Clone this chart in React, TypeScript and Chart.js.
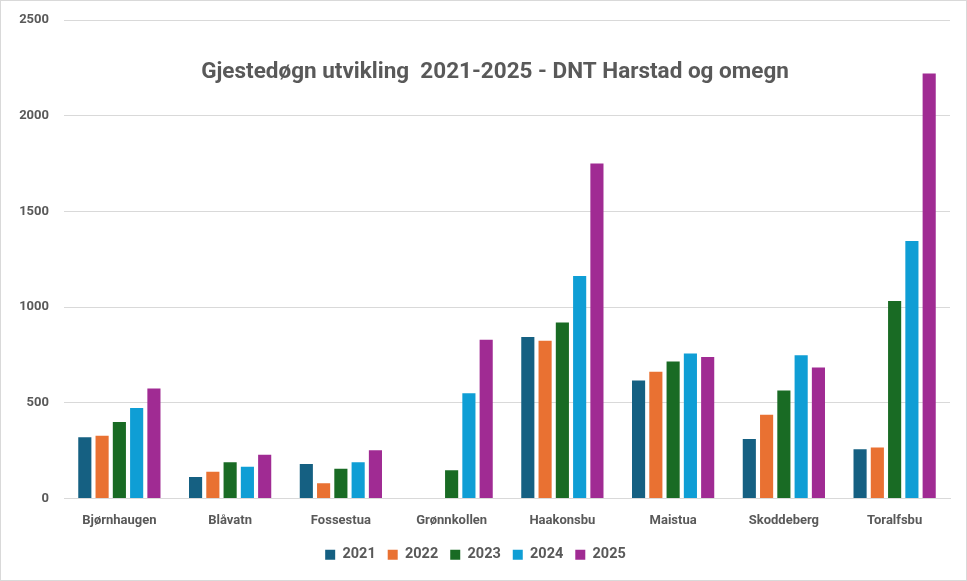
import React, { useEffect, useRef } from "react";
import { Chart, registerables } from "chart.js";

Chart.register(...registerables);

const categories = ["Bjørnhaugen", "Blåvatn", "Fossestua", "Grønnkollen", "Haakonsbu", "Maistua", "Skoddeberg", "Toralfsbu"];
const seriesNames = ["2021", "2022", "2023", "2024", "2025"];
const values2021 = [320, 112, 180, null, 844, 617, 311, 257];
const values2022 = [328, 140, 80, null, 824, 662, 437, 267];
const values2023 = [400, 189, 156, 147, 920, 716, 564, 1032];
const values2024 = [473, 166, 190, 550, 1163, 758, 749, 1345];
const values2025 = [575, 229, 252, 830, 1750, 739, 685, 2220];
const seriesColors = ["#156082", "#E97132", "#196B24", "#0F9ED5", "#A02B93"];
const yTicks = [0, 500, 1000, 1500, 2000, 2500];
const titleText = "Gjestedøgn utvikling  2021-2025 - DNT Harstad og omegn";

export default function App() {
  const canvasRef = useRef<HTMLCanvasElement | null>(null);

  useEffect(() => {
    document.body.style.margin = "0";
    const canvas = canvasRef.current;
    if (!canvas) return;
    const allValues = [values2021, values2022, values2023, values2024, values2025];

    const titlePlugin = {
      id: "overlayTitle",
      afterDraw(chart: any) {
        const ctx = chart.ctx;
        ctx.save();
        ctx.font = "bold 22.5px Roboto";
        ctx.fillStyle = "#595959";
        ctx.textAlign = "center";
        ctx.textBaseline = "alphabetic";
        ctx.fillText(titleText, 494, 77);
        ctx.restore();
      },
    };

    const chart = new Chart(canvas, {
      type: "bar",
      data: {
        labels: categories,
        datasets: seriesNames.map((name, i) => ({
          label: name,
          data: allValues[i],
          backgroundColor: seriesColors[i],
          borderWidth: 0,
          categoryPercentage: 0.78,
          barPercentage: 0.76,
        })),
      },
      options: {
        animation: false,
        responsive: false,
        maintainAspectRatio: false,
        layout: { padding: { top: 19, right: 16, bottom: 8, left: 0 } },
        plugins: {
          title: { display: false },
          tooltip: { enabled: false },
          legend: {
            position: "bottom",
            labels: {
              boxWidth: 10,
              boxHeight: 10,
              padding: 12,
              color: "#595959",
              font: { family: "Roboto", size: 14.5, weight: "bold" },
            },
          },
        },
        scales: {
          x: {
            grid: { display: false, drawTicks: false },
            border: { display: true, color: "#d9d9d9", width: 1 },
            afterFit(scale: any) {
              scale.height = 37;
            },
            ticks: {
              color: "#595959",
              padding: 14,
              font: { family: "Roboto", size: 13, weight: "bold" },
            },
          },
          y: {
            min: 0,
            max: 2500,
            afterBuildTicks(scale: any) {
              scale.ticks = yTicks.map((v) => ({ value: v }));
            },
            afterFit(scale: any) {
              scale.width = 63;
              scale.paddingTop = 0;
            },
            grid: { color: "#d9d9d9", lineWidth: 1, drawTicks: false },
            border: { display: false },
            ticks: {
              color: "#595959",
              padding: 15,
              callback: (v: any) => String(v),
              font: { family: "Roboto", size: 13, weight: "bold" },
            },
          },
        },
      },
      plugins: [titlePlugin],
    });
    return () => chart.destroy();
  }, []);

  return (
    <div
      style={{
        width: 967,
        height: 581,
        boxSizing: "border-box",
        border: "1px solid #d9d9d9",
        background: "#fff",
      }}
    >
      <canvas ref={canvasRef} width={965} height={579} style={{ display: "block" }} />
    </div>
  );
}
